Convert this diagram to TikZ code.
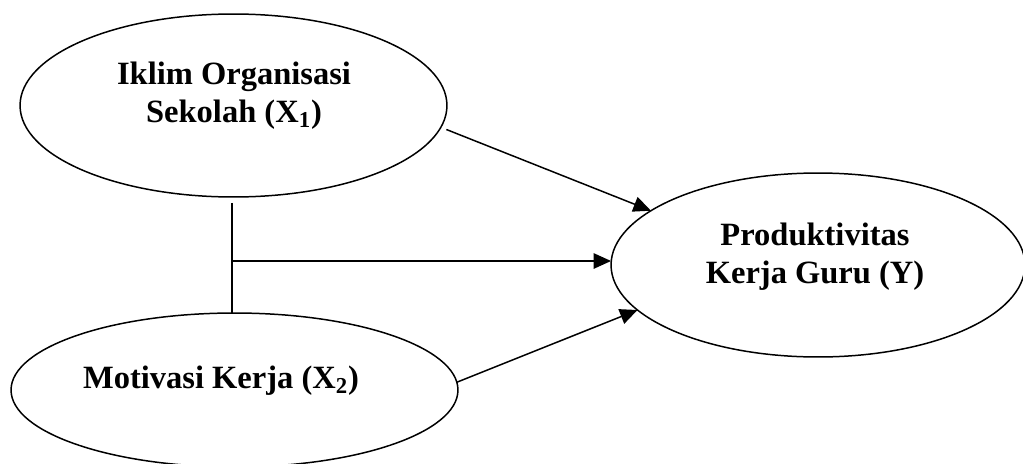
\documentclass[tikz,border=0pt]{standalone}
\usepackage{fontspec}
\setmainfont{Liberation Serif}
\usetikzlibrary{shapes.geometric,arrows.meta}
\begin{document}
\begin{tikzpicture}[x=0.02cm, y=-0.02cm, var/.style={ellipse, draw, line width=0.85pt, inner sep=0pt, outer sep=0pt}, txt/.style={align=center, inner sep=0pt, font=\fontsize{18.5}{21.5}\selectfont\bfseries}, link/.style={line width=0.85pt}, arr/.style={line width=0.85pt, -{Triangle[length=3.5mm, width=3.1mm]}}]
  \useasboundingbox (0,0) rectangle (1023,463);
  \clip (0,0) rectangle (1023,463);
  \node[var, minimum width=8.54cm, minimum height=3.66cm] (X1) at (233.5,105.5) {};
  \node[txt] (X1t) at (234,96) {Iklim Organisasi\\Sekolah (X\textsubscript{1})};
  \node[var, minimum width=8.94cm, minimum height=3.08cm] (X2) at (234.5,390) {};
  \node[txt] (X2t) at (221,381) {Motivasi Kerja (X\textsubscript{2})};
  \node[var, minimum width=8.28cm, minimum height=3.68cm] (Y) at (818,265) {};
  \node[txt] (Yt) at (815,257) {Produktivitas\\Kerja Guru (Y)};
  \coordinate (J) at (232,261);
  \draw[link] ([yshift=-0.12cm]X1.south -| J) -- (J |- X2.north);
  \draw[arr] (J) -- (J -| Y.west);
  \draw[arr, shorten <=0.12cm] (X1.-6.6) -- (Y.162);
  \draw[arr] (X2.2) -- (Y.194.4);
\end{tikzpicture}
\end{document}
